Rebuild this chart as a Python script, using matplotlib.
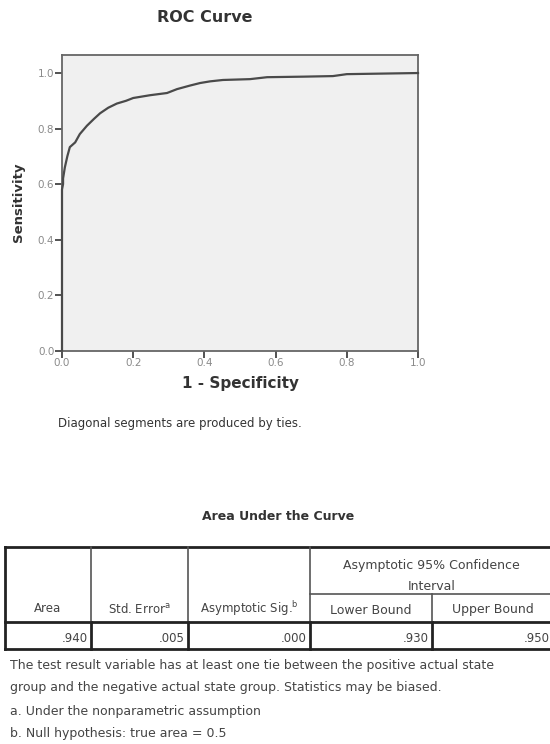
import matplotlib
matplotlib.use("Agg")
import matplotlib.pyplot as plt

plt.rcParams['font.family'] = ['DejaVu Sans']

# ROC curve
fpr = [0, 0, 0.003, 0.003, 0.008, 0.015, 0.022, 0.037, 0.05, 0.07, 0.09, 0.107,
       0.13, 0.154, 0.18, 0.2, 0.247, 0.295, 0.323, 0.36, 0.388, 0.416, 0.452,
       0.528, 0.576, 0.68, 0.761, 0.8, 0.9, 1.0]
tpr = [0, 0.58, 0.6, 0.62, 0.66, 0.70, 0.733, 0.75, 0.78, 0.81, 0.835, 0.855,
       0.875, 0.89, 0.90, 0.91, 0.92, 0.928, 0.942, 0.955, 0.964, 0.97, 0.975,
       0.978, 0.985, 0.987, 0.989, 0.996, 0.998, 1.0]
ticks = [0.0, 0.2, 0.4, 0.6, 0.8, 1.0]

# AUC table
col_heads = ["Area", "Std. Error$^{\\mathrm{a}}$", "Asymptotic Sig.$^{\\mathrm{b}}$"]
ci_head = ["Asymptotic 95% Confidence", "Interval"]
ci_sub = ["Lower Bound", "Upper Bound"]
row_vals = [".940", ".005", ".000", ".930", ".950"]
notes = ["The test result variable has at least one tie between the positive actual state",
         "group and the negative actual state group. Statistics may be biased.",
         "a. Under the nonparametric assumption",
         "b. Null hypothesis: true area = 0.5"]

W, H = 550, 744
fig = plt.figure(figsize=(5.5, 7.44), dpi=100)

ax = fig.add_axes([62 / W, 1 - 350.5 / H, 356 / W, 295.5 / H])
ax.set_facecolor('#f0f0f0')
ax.plot(fpr, tpr, color='#4a4a4a', lw=1.6, clip_on=False, zorder=3)
ax.set_xlim(0, 1)
ax.set_ylim(0, 1.065)
ax.set_xticks(ticks)
ax.set_yticks(ticks)
ax.set_xticklabels([f"{t:.1f}" for t in ticks])
ax.set_yticklabels([f"{t:.1f}" for t in ticks])
ax.tick_params(direction='out', length=5, width=1.3, color='#444444',
               labelsize=7.5, labelcolor='#8a8a8a', pad=0.5)
ax.tick_params(top=False, right=False)
for s in ax.spines.values():
    s.set_color('#666666')
    s.set_linewidth(1.3)
ax.set_xlabel("1 - Specificity", fontsize=11, fontweight='bold', color='#333333', labelpad=6)
ax.set_ylabel("Sensitivity", fontsize=9.5, fontweight='bold', color='#333333')
ax.yaxis.set_label_coords(-0.103, 0.5)
fig.text(205 / W, 1 - 17 / H, "ROC Curve", ha='center', va='center',
         fontsize=11.5, fontweight='bold', color='#333333')
fig.text(58 / W, 1 - 423 / H, "Diagonal segments are produced by ties.",
         ha='left', va='center', fontsize=8.5, color='#333333')

# table drawn in pixel space
tb = fig.add_axes([0, 0, 1, 1])
tb.set_xlim(0, W)
tb.set_ylim(H, 0)
tb.axis('off')

tb.text(278, 516, "Area Under the Curve", ha='center', va='center',
        fontsize=9, fontweight='bold', color='#333333')

xs = [5, 91, 188, 310, 432, 553]
top, mid, hdr, bot = 547, 594, 622, 649
thick = dict(color='#222222', lw=2.0)
thin = dict(color='#555555', lw=1.2)
tb.plot([xs[0], xs[-1]], [top, top], **thick)
tb.plot([xs[0], xs[-1]], [hdr, hdr], **thick)
tb.plot([xs[0], xs[-1]], [bot, bot], **thick)
tb.plot([xs[0], xs[0]], [top, bot], **thick)
tb.plot([xs[3], xs[-1]], [mid, mid], **thin)
for x in xs[1:4]:
    tb.plot([x, x], [top, hdr], **thin)
    tb.plot([x, x], [hdr, bot], **thick)
tb.plot([xs[4], xs[4]], [mid, hdr], **thin)
tb.plot([xs[4], xs[4]], [hdr, bot], **thick)

tcol = '#444444'
for i, h in enumerate(col_heads):
    tb.text((xs[i] + xs[i + 1]) / 2, 609, h, ha='center', va='center', fontsize=8.5, color=tcol)
tb.text((xs[3] + xs[5]) / 2, 566, ci_head[0], ha='center', va='center', fontsize=9, color=tcol)
tb.text((xs[3] + xs[5]) / 2, 587, ci_head[1], ha='center', va='center', fontsize=9, color=tcol)
for i, h in enumerate(ci_sub):
    tb.text((xs[3 + i] + xs[4 + i]) / 2, 610, h, ha='center', va='center',
            fontsize=9, color=tcol)
for i, v in enumerate(row_vals):
    tb.text(xs[i + 1] - 3, 638, v, ha='right', va='center', fontsize=8.5, color=tcol)

for k, n in enumerate(notes):
    tb.text(10, [665, 688, 712, 733][k], n, ha='left', va='center', fontsize=9, color=tcol)

fig.savefig("out.png", dpi=100)
